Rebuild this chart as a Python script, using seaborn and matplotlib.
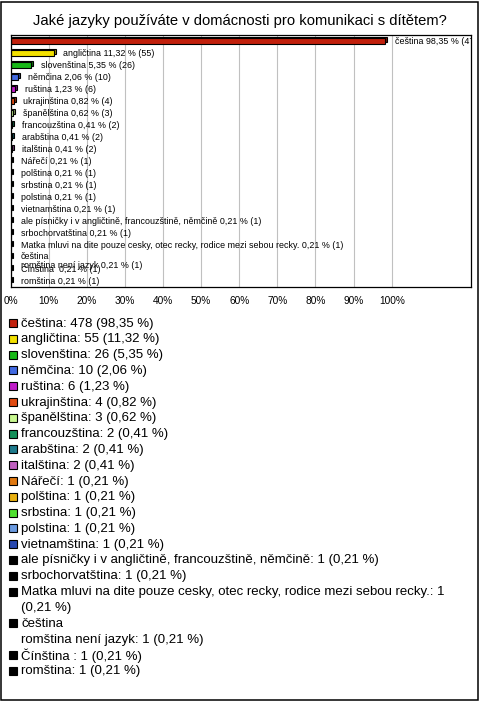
import textwrap
import matplotlib
matplotlib.use("Agg")
import matplotlib.pyplot as plt
import matplotlib.patheffects as pe
from matplotlib.patches import Rectangle
from matplotlib.colors import to_rgb
import seaborn as sns

# ---------------- data ----------------
title = "Jaké jazyky používáte v domácnosti pro komunikaci s dítětem?"
categories = [
    "čeština", "angličtina", "slovenština", "němčina", "ruština",
    "ukrajinština", "španělština", "francouzština", "arabština", "italština",
    "Nářečí", "polština", "srbstina", "polstina", "vietnamština",
    "ale písničky i v angličtině, francouzštině, němčině",
    "srbochorvatština",
    "Matka mluvi na dite pouze cesky, otec recky, rodice mezi sebou recky.",
    "čeština\nromština není jazyk",
    "Čínština ",
    "romština",
]
counts = [478, 55, 26, 10, 6, 4, 3, 2, 2, 2, 1, 1, 1, 1, 1, 1, 1, 1, 1, 1, 1]
percents = [98.35, 11.32, 5.35, 2.06, 1.23, 0.82, 0.62, 0.41, 0.41, 0.41,
            0.21, 0.21, 0.21, 0.21, 0.21, 0.21, 0.21, 0.21, 0.21, 0.21, 0.21]
colors = ["#c1200c", "#f2e000", "#18b818", "#4169e1", "#c01cc8",
          "#e04a10", "#c8f890", "#13905a", "#1e7a8c", "#c060c0",
          "#e07810", "#e8b010", "#50e030", "#6a9ae0", "#2848b0",
          "#000000", "#000000", "#000000", "#000000", "#000000", "#000000"]
xticks = [0, 10, 20, 30, 40, 50, 60, 70, 80, 90, 100]
xtick_labels = [f"{t}%" for t in xticks]

# ---------------- style ----------------
sns.set_theme(style="white")
plt.rcParams["font.family"] = ["Liberation Sans", "DejaVu Sans"]

W, H = 480, 701
fig = plt.figure(figsize=(W / 100, H / 100), dpi=100)
fig.patch.set_facecolor("white")

# plot area in pixels
left_px, right_px, top_px, bottom_px = 10.5, 471, 35, 287
ax = fig.add_axes([left_px / W, 1 - bottom_px / H,
                   (right_px - left_px) / W, (bottom_px - top_px) / H])

sns.barplot(x=percents, y=categories, hue=categories, palette=colors,
            orient="h", width=0.42, legend=False, ax=ax,
            edgecolor="black", linewidth=0.8, saturation=1)

ax.set_xlim(0, 120.8)
ax.set_ylim(len(categories) - 0.5, -0.5)
ax.set_xticks(xticks)
ax.set_xticklabels(xtick_labels, fontsize=7.3)
ax.set_yticks([])
ax.set_xlabel("")
ax.set_ylabel("")
ax.tick_params(axis="x", length=0, pad=6.5, colors="black")
ax.grid(axis="x", color="#c0c0c0", linewidth=0.8)
ax.set_axisbelow(True)
for s in ax.spines.values():
    s.set_visible(True)
    s.set_color("black")
    s.set_linewidth(0.9)

# 3D-ish depth on bars
bars = sorted(ax.patches, key=lambda p: p.get_y())
for p in bars:
    fc = to_rgb(p.get_facecolor())
    dark = tuple(c * 0.6 for c in fc)
    p.set_path_effects([
        pe.PathPatchEffect(offset=(1.4, 1.4), facecolor=dark,
                           edgecolor="black", linewidth=0.8),
        pe.Normal(),
    ])

# bar labels
def fmt(p):
    return f"{p:.2f}".replace(".", ",")

for p, cat, cnt, pct in zip(bars, categories, counts, percents):
    y = p.get_y() + p.get_height() / 2
    text = f"{cat} {fmt(pct)} % ({cnt})"
    if "\n" in text:
        va, dy = "top", 3.9
    else:
        va, dy = "center", 0
    ax.annotate(text, xy=(p.get_width(), y),
                xytext=(7, dy), textcoords="offset points",
                ha="left", va=va, fontsize=6.4,
                color="black", clip_on=True, linespacing=1.0)

# title
fig.text(0.5, 1 - 21 / H, title, ha="center", va="center",
         fontsize=10.6, color="black")

# legend (manual, below chart)
line_y0, pitch = 323.5, 15.8
sw_x, sw_size, txt_x = 8.5, 8, 21
row = 0
for cat, cnt, pct, col in zip(categories, counts, percents, colors):
    label = f"{cat}: {cnt} ({fmt(pct)} %)"
    lines = []
    for para in label.split("\n"):
        lines.extend(textwrap.wrap(para, width=74, break_long_words=False))
    for i, line in enumerate(lines):
        yc = line_y0 + pitch * row
        if i == 0:
            fig.add_artist(Rectangle((sw_x / W, 1 - (yc - 0.5 + sw_size / 2) / H),
                                     sw_size / W, sw_size / H,
                                     transform=fig.transFigure,
                                     facecolor=col, edgecolor="black",
                                     linewidth=0.8))
        fig.text(txt_x / W, 1 - yc / H, line, ha="left", va="center",
                 fontsize=9.5, color="black")
        row += 1

# outer border
fig.add_artist(Rectangle((1 / W, 1 / H), 477 / W, 698 / H,
                         transform=fig.transFigure, fill=False,
                         edgecolor="black", linewidth=1.1))

fig.savefig("out.png", dpi=100)
